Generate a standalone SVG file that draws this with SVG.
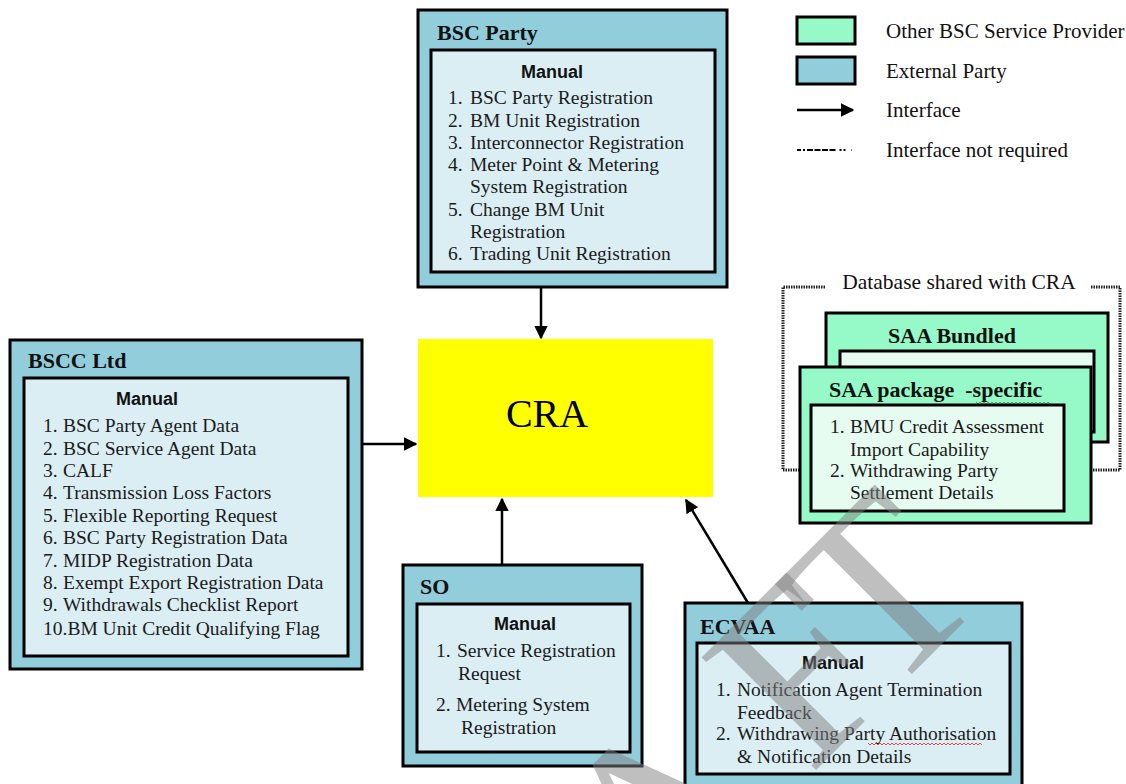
<svg xmlns="http://www.w3.org/2000/svg" width="1126" height="784" viewBox="0 0 1126 784">
<defs>
<marker id="ah" viewBox="0 0 10 10" refX="9" refY="5" markerWidth="5.5" markerHeight="5.5" orient="auto" markerUnits="strokeWidth">
<path d="M0,0 L10,5 L0,10 z" fill="#000"/>
</marker>
<style>
.ext{fill:#92CDDC;stroke:#000;stroke-width:3}
.inb{fill:#DAEEF3;stroke:#000;stroke-width:3}
.oth{fill:#96F9C8;stroke:#000;stroke-width:3}
.ing{fill:#E6FCF0;stroke:#000;stroke-width:3}
.ttl{font-family:"Liberation Serif",serif;font-weight:bold;font-size:22px;fill:#111}
.man{font-family:"Liberation Sans",sans-serif;font-weight:bold;font-size:18px;fill:#111;text-anchor:middle}
.li{font-family:"Liberation Serif",serif;font-size:19.5px;fill:#1a1a1a}
.lg{font-family:"Liberation Serif",serif;font-size:21px;fill:#111}
.con{stroke:#000;stroke-width:2.5;fill:none;marker-end:url(#ah)}
</style>
</defs>
<rect width="1126" height="784" fill="#fff"/>

<g id="legend">
<rect x="797" y="17" width="58" height="27" class="oth"/>
<rect x="797" y="57" width="58" height="27" class="ext"/>
<line x1="797" y1="110" x2="853" y2="110" class="con"/>
<line x1="797" y1="150" x2="852" y2="150" stroke="#000" stroke-width="2" stroke-dasharray="4 2 2 2 6 1.5 6 1.5 6 1.5 6"/>
<text x="886" y="38" class="lg">Other BSC Service Provider</text>
<text x="886" y="78" class="lg">External Party</text>
<text x="886" y="117" class="lg">Interface</text>
<text x="886" y="157" class="lg">Interface not required</text>
</g>

<g id="bsc-party">
<rect x="418" y="10" width="309" height="277" class="ext"/>
<text x="437" y="40" class="ttl">BSC Party</text>
<rect x="431" y="50" width="284" height="222" class="inb"/>
<text x="552" y="78" class="man">Manual</text>
<g class="li">
<text x="448" y="104">1.</text><text x="470" y="104">BSC Party Registration</text>
<text x="448" y="127">2.</text><text x="470" y="127">BM Unit Registration</text>
<text x="448" y="149">3.</text><text x="470" y="149">Interconnector Registration</text>
<text x="448" y="171">4.</text><text x="470" y="171">Meter Point &amp; Metering</text>
<text x="470" y="193">System Registration</text>
<text x="448" y="216">5.</text><text x="470" y="216">Change BM Unit</text>
<text x="470" y="238">Registration</text>
<text x="448" y="260">6.</text><text x="470" y="260">Trading Unit Registration</text>
</g>
</g>

<g id="cra">
<rect x="418" y="339" width="295" height="158" fill="#FFFF00"/>
<text x="547" y="427" font-family="Liberation Serif, serif" font-size="40" text-anchor="middle" fill="#000">CRA</text>
</g>

<g id="bscc-ltd">
<rect x="10" y="340" width="352" height="329" class="ext"/>
<text x="28" y="368" class="ttl">BSCC Ltd</text>
<rect x="24" y="378" width="324" height="278" class="inb"/>
<text x="147" y="405" class="man">Manual</text>
<g class="li">
<text x="43" y="432">1.</text><text x="63" y="432">BSC Party Agent Data</text>
<text x="43" y="455">2.</text><text x="63" y="455">BSC Service Agent Data</text>
<text x="43" y="477">3.</text><text x="63" y="477">CALF</text>
<text x="43" y="499">4.</text><text x="63" y="499">Transmission Loss Factors</text>
<text x="43" y="522">5.</text><text x="63" y="522">Flexible Reporting Request</text>
<text x="43" y="544">6.</text><text x="63" y="544">BSC Party Registration Data</text>
<text x="43" y="567">7.</text><text x="63" y="567">MIDP Registration Data</text>
<text x="43" y="589">8.</text><text x="63" y="589">Exempt Export Registration Data</text>
<text x="43" y="611">9.</text><text x="63" y="611">Withdrawals Checklist Report</text>
<text x="43" y="635">10.BM Unit Credit Qualifying Flag</text>
</g>
</g>

<g id="so">
<rect x="403" y="565" width="239" height="201" class="ext"/>
<text x="420" y="594" class="ttl">SO</text>
<rect x="417" y="604" width="213" height="148" class="inb"/>
<text x="525" y="630" class="man">Manual</text>
<g class="li">
<text x="436" y="657">1.</text><text x="457" y="657">Service Registration</text>
<text x="458" y="680">Request</text>
<text x="436" y="711">2.</text><text x="456" y="711">Metering System</text>
<text x="461" y="734">Registration</text>
</g>
</g>

<g id="ecvaa">
<rect x="685" y="603" width="337" height="190" class="ext"/>
<text x="700" y="634" class="ttl">ECVAA</text>
<rect x="697" y="643" width="313" height="131" class="inb"/>
<text x="833" y="669" class="man">Manual</text>
<g class="li">
<text x="716" y="696">1.</text><text x="737" y="696">Notification Agent Termination</text>
<text x="737" y="719">Feedback</text>
<text x="716" y="740">2.</text><text x="737" y="740">Withdrawing Party Authorisation</text>
<text x="737" y="763">&amp; Notification Details</text>
</g>
<path d="M868,743 l2,2 l2,-2 l2,2 l2,-2 l2,2 l2,-2 l2,2 l2,-2 l2,2 l2,-2 l2,2 l2,-2 l2,2 l2,-2 l2,2 l2,-2 l2,2 l2,-2 l2,2 l2,-2 l2,2 l2,-2 l2,2 l2,-2 l2,2 l2,-2 l2,2 l2,-2 l2,2 l2,-2 l2,2 l2,-2 l2,2 l2,-2 l2,2 l2,-2 l2,2 l2,-2 l2,2 l2,-2 l2,2 l2,-2 l2,2 l2,-2 l2,2 l2,-2 l2,2 l2,-2 l2,2 l2,-2 l2,2 l2,-2 l2,2 l2,-2 l2,2 l2,-2 l2,2" stroke="#E02020" stroke-width="0.8" fill="none"/>
</g>

<g id="database-shared">
<path d="M825,287 H783 V470 H800 M1091,287 H1120 V470 H1091" fill="none" stroke="#222" stroke-width="3" stroke-dasharray="1.5 1"/>
<text x="959" y="289" font-family="Liberation Serif, serif" font-size="21.5" fill="#111" text-anchor="middle">Database shared with CRA</text>
</g>

<g id="saa-bundled">
<rect x="826" y="313" width="282" height="129" class="oth"/>
<text x="952" y="343" class="ttl" text-anchor="middle">SAA Bundled</text>
<rect x="840" y="351" width="254" height="81" class="ing"/>
</g>

<g id="saa-package-specific">
<rect x="800" y="367" width="291" height="156" class="oth"/>
<text x="829" y="397" class="ttl" xml:space="preserve">SAA package  -specific</text>
<path d="M976,402 l2,2 l2,-2 l2,2 l2,-2 l2,2 l2,-2 l2,2 l2,-2 l2,2 l2,-2 l2,2 l2,-2 l2,2 l2,-2 l2,2 l2,-2 l2,2 l2,-2 l2,2 l2,-2 l2,2 l2,-2 l2,2 l2,-2 l2,2 l2,-2 l2,2 l2,-2 l2,2 l2,-2 l2,2 l2,-2 l2,2 l2,-2 l2,2 l2,-2 l2,2" stroke="#2E9E3E" stroke-width="0.8" fill="none"/>
<rect x="811" y="405" width="253" height="106" class="ing"/>
<g class="li">
<text x="830" y="433">1.</text><text x="850" y="433">BMU Credit Assessment</text>
<text x="850" y="456">Import Capability</text>
<text x="830" y="477">2.</text><text x="850" y="477">Withdrawing Party</text>
<text x="850" y="499">Settlement Details</text>
</g>
</g>

<g id="connectors">
<line x1="541" y1="287" x2="541" y2="338" class="con"/>
<line x1="362" y1="444" x2="416" y2="444" class="con"/>
<line x1="502" y1="565" x2="502" y2="499" class="con"/>
<line x1="748" y1="603" x2="686" y2="500" class="con"/>
</g>

<text id="watermark" x="707" y="879" transform="rotate(-45 707 879)" font-family="Liberation Serif, serif" font-size="245" text-anchor="middle" fill="#808080" fill-opacity="0.5">DR<tspan dx="-14">A</tspan><tspan dx="44">F</tspan><tspan dx="-30">T</tspan></text>
</svg>
